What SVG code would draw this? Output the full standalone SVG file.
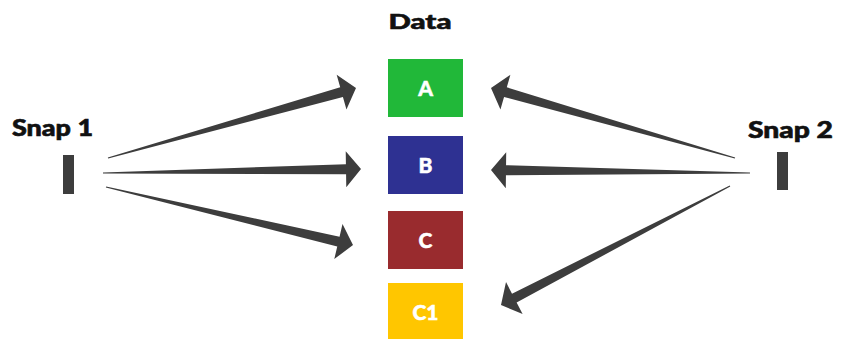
<svg xmlns="http://www.w3.org/2000/svg" width="846" height="339" viewBox="0 0 846 339">
  <style>
    .lbl { font-family: "Lato", "Open Sans", "Liberation Sans", sans-serif; font-weight: 900; fill: #111; stroke: #111; stroke-width: 0.6; }
    .box-text { font-family: "Lato", "Open Sans", "Liberation Sans", sans-serif; font-weight: 900; fill: #ffffff; stroke: #ffffff; stroke-width: 0.5; font-size: 21px; text-anchor: middle; }
    .bar { fill: #3d3d3d; }
    .arrow { fill: #3d3d3d; }
  </style>
  <rect width="846" height="339" fill="#ffffff"/>

  <g id="data-title">
    <text class="lbl" x="420" y="29" font-size="21" textLength="63" lengthAdjust="spacingAndGlyphs" text-anchor="middle">Data</text>
  </g>

  <g id="snap1">
    <text class="lbl" x="12" y="136" font-size="22" textLength="81" lengthAdjust="spacingAndGlyphs">Snap 1</text>
    <rect class="bar" x="63" y="155" width="11" height="39"/>
  </g>

  <g id="snap2">
    <text class="lbl" x="748" y="138" font-size="22" textLength="85" lengthAdjust="spacingAndGlyphs">Snap 2</text>
    <rect class="bar" x="777" y="152" width="11" height="38"/>
  </g>

  <g id="box-a">
    <rect x="388" y="59" width="75" height="58" fill="#21b839"/>
    <text class="box-text" x="425.5" y="96">A</text>
  </g>
  <g id="box-b">
    <rect x="388" y="136" width="75" height="58" fill="#2e3192"/>
    <text class="box-text" x="425.5" y="173">B</text>
  </g>
  <g id="box-c">
    <rect x="388" y="211" width="75" height="58" fill="#992b2e"/>
    <text class="box-text" x="425.5" y="248">C</text>
  </g>
  <g id="box-c1">
    <rect x="388" y="283" width="75" height="58" fill="#ffc600"/>
    <text class="box-text" x="425.5" y="320">C1</text>
  </g>

  <g id="connectors">
    <!-- Snap 1 to A, B, C: tapered shafts widening toward the head -->
    <polygon class="arrow" points="108.16,158.58 342.92,96.88 346.45,109.39 356,88 336.67,74.75 340.20,87.26 107.84,157.42"/>
    <polygon class="arrow" points="103.01,173.6 346.08,174.23 346.28,187.23 361,169 345.72,151.23 345.92,164.23 102.99,172.4"/>
    <polygon class="arrow" points="105.86,187.58 337.26,246.44 334.29,259.09 353,245 342.51,224.05 339.54,236.70 106.14,186.42"/>
    <!-- Snap 2 to A, B, C1 -->
    <polygon class="arrow" points="735.17,157.42 506.80,87.33 510.38,74.83 491,88 500.46,109.45 504.04,96.95 734.83,158.58"/>
    <polygon class="arrow" points="750.01,172.4 506.06,165.17 506.21,152.17 491,170 505.79,188.17 505.94,175.17 749.99,173.6"/>
    <polygon class="arrow" points="729.72,185.47 512.00,293.64 506.01,282.11 501,305 522.61,314.05 516.62,302.52 730.28,186.53"/>
  </g>
</svg>
